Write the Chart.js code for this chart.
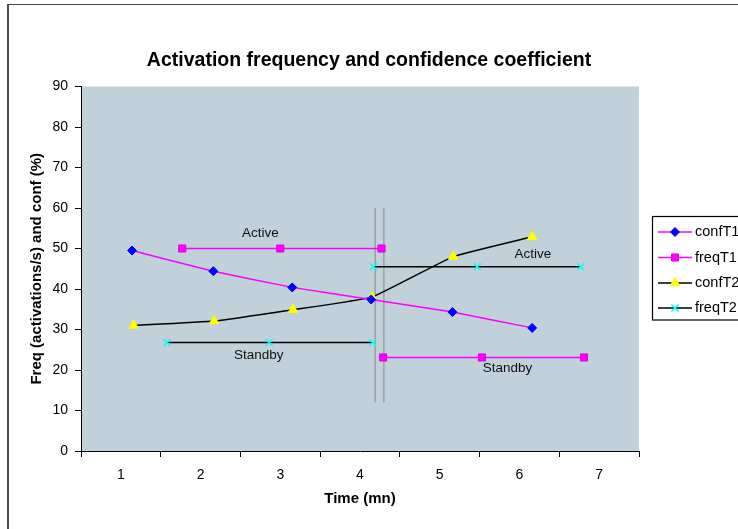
<!DOCTYPE html>
<html>
<head>
<meta charset="utf-8">
<script src="https://cdn.jsdelivr.net/npm/chart.js@4.4.1/dist/chart.umd.min.js"></script>
<style>
  html, body { margin: 0; padding: 0; background: #fff; }
  #wrap { position: relative; width: 738px; height: 529px; overflow: hidden; }
  #frame { position: absolute; left: 7px; top: 4px; width: 800px; height: 600px;
           border-left: 2px solid #4a4a4a; border-top: 1.5px solid #4a4a4a; }
  #activityChart { position: absolute; left: 0; top: 0; }
</style>
</head>
<body>
<div id="wrap">
  <div id="frame"></div>
  <canvas id="activityChart" width="738" height="529"></canvas>
</div>
<script>
// category tick labels (time, mn)
const timeLabels = ['1', '2', '3', '4', '5', '6', '7'];

// series (x = time, y = value); null breaks the line
const confT1X = [1.14, 2.16, 3.15, 4.14, 5.16, 6.16];
const confT1Y = [49.5, 44.4, 40.4, 37.4, 34.3, 30.4];

const freqT1X = [1.77, 3.00, 4.27, 4.28, 4.29, 5.53, 6.81];
const freqT1Y = [50, 50, 50, null, 23.1, 23.1, 23.1];

const confT2X = [1.16, 2.17, 3.16, 4.15, 5.17, 6.16];
const confT2Y = [31.0, 32.1, 34.9, 38.0, 48.0, 52.9];

const freqT2X = [1.58, 2.86, 4.16, 4.165, 4.17, 5.47, 6.77];
const freqT2Y = [26.8, 26.8, 26.8, null, 45.5, 45.5, 45.5];

// switch-over markers (two vertical lines)
const switchX = [4.19, 4.30];
const switchY = [12, 60];

// state notes
const noteText = ['Active', 'Standby', 'Active', 'Standby'];
const noteX = [2.75, 2.73, 6.17, 5.85];
const noteY = [53.7, 23.6, 48.6, 20.4];

const yTicks = [0, 10, 20, 30, 40, 50, 60, 70, 80, 90];

Chart.defaults.font.family = "'Liberation Sans', Arial, sans-serif";
Chart.defaults.color = '#000';

function pts(xs, ys) {
    return xs.map((x, i) => ({ x: x, y: ys[i] }));
}

const plotBg = {
    id: 'plotBg',
    beforeDraw(chart) {
        const a = chart.chartArea;
        const ctx = chart.ctx;
        ctx.save();
        ctx.fillStyle = '#C0D1D9';
        ctx.fillRect(a.left, a.top, a.right - a.left, a.bottom - a.top);
        ctx.restore();
    }
};

const notesAndLegend = {
    id: 'notesAndLegend',
    afterDatasetsDraw(chart) {
        const ctx = chart.ctx;
        const xs = chart.scales.xd;
        const ys = chart.scales.y;
        ctx.save();
        ctx.font = "13.5px 'Liberation Sans', Arial, sans-serif";
        ctx.fillStyle = '#111';
        ctx.textAlign = 'center';
        ctx.textBaseline = 'middle';
        noteText.forEach((t, i) => {
            ctx.fillText(t, xs.getPixelForValue(noteX[i]), ys.getPixelForValue(noteY[i]));
        });
        ctx.restore();
    },
    afterDraw(chart) {
        const ctx = chart.ctx;
        ctx.save();
        // legend box
        ctx.strokeStyle = '#000';
        ctx.lineWidth = 1.2;
        ctx.strokeRect(652.5, 216.5, 140, 103.5);
        const rows = [232, 257.5, 283, 308];
        chart.data.datasets.slice(0, 4).forEach((ds, i) => {
            const y = rows[i];
            ctx.strokeStyle = ds.borderColor;
            ctx.lineWidth = 1.5;
            ctx.beginPath();
            ctx.moveTo(658, y);
            ctx.lineTo(692, y);
            ctx.stroke();
            ctx.fillStyle = ds.pointBackgroundColor;
            ctx.strokeStyle = ds.pointBorderColor;
            ctx.lineWidth = ds.pointBorderWidth;
            Chart.helpers.drawPoint(ctx, {
                pointStyle: ds.pointStyle,
                radius: ds.pointRadius,
                rotation: 0,
                borderWidth: ds.pointBorderWidth
            }, 675, y);
            ctx.fillStyle = '#000';
            ctx.font = "14.5px 'Liberation Sans', Arial, sans-serif";
            ctx.textAlign = 'left';
            ctx.textBaseline = 'middle';
            ctx.fillText(ds.label, 695, y);
        });
        ctx.restore();
    }
};

new Chart(document.getElementById('activityChart'), {
    type: 'line',
    data: {
        labels: timeLabels,
        datasets: [
            {
                label: 'confT1',
                data: pts(confT1X, confT1Y),
                xAxisID: 'xd',
                borderColor: '#FF00FF',
                borderWidth: 1.5,
                tension: 0.1,
                pointStyle: 'rectRot',
                pointRadius: 4.5,
                pointBackgroundColor: '#0000FF',
                pointBorderColor: '#0000FF',
                pointBorderWidth: 1
            },
            {
                label: 'freqT1',
                data: pts(freqT1X, freqT1Y),
                xAxisID: 'xd',
                borderColor: '#FF00FF',
                borderWidth: 1.5,
                pointStyle: 'rect',
                pointRadius: 5,
                pointBackgroundColor: '#FF00FF',
                pointBorderColor: '#E000E0',
                pointBorderWidth: 1
            },
            {
                label: 'confT2',
                data: pts(confT2X, confT2Y),
                xAxisID: 'xd',
                borderColor: '#000000',
                borderWidth: 1.5,
                tension: 0.1,
                pointStyle: 'triangle',
                pointRadius: 5.5,
                pointBackgroundColor: '#FFFF00',
                pointBorderColor: '#FFFF00',
                pointBorderWidth: 1
            },
            {
                label: 'freqT2',
                data: pts(freqT2X, freqT2Y),
                xAxisID: 'xd',
                borderColor: '#000000',
                borderWidth: 1.5,
                pointStyle: 'crossRot',
                pointRadius: 5,
                pointBackgroundColor: '#00FFFF',
                pointBorderColor: '#00FFFF',
                pointBorderWidth: 1.5
            },
            {
                label: 'switchA',
                data: pts([switchX[0], switchX[0]], switchY),
                xAxisID: 'xd',
                borderColor: '#8a8a8a',
                borderWidth: 1,
                pointRadius: 0
            },
            {
                label: 'switchB',
                data: pts([switchX[1], switchX[1]], switchY),
                xAxisID: 'xd',
                borderColor: '#8a8a8a',
                borderWidth: 1,
                pointRadius: 0
            }
        ]
    },
    options: {
        responsive: false,
        animation: false,
        spanGaps: false,
        layout: { padding: { left: 0, right: 0, top: 0, bottom: 0 } },
        plugins: {
            legend: { display: false },
            tooltip: { enabled: false },
            title: {
                display: true,
                text: 'Activation frequency and confidence coefficient',
                font: { size: 19.5, weight: 'bold' },
                color: '#000',
                padding: { top: 49.3, bottom: 13.8 }
            }
        },
        scales: {
            x: {
                type: 'category',
                position: 'bottom',
                offset: true,
                grid: {
                    offset: true,
                    drawOnChartArea: false,
                    drawTicks: true,
                    tickLength: 6,
                    color: '#000'
                },
                border: { color: '#000', width: 1 },
                ticks: { font: { size: 14 }, color: '#000', padding: 10 },
                title: {
                    display: true,
                    text: 'Time (mn)',
                    font: { size: 15, weight: 'bold' },
                    color: '#000',
                    padding: { top: 0, bottom: 20.7 }
                },
                afterFit(scale) { scale.height = 78; }
            },
            xd: {
                type: 'linear',
                display: false,
                min: 0.5,
                max: 7.5
            },
            y: {
                min: 0,
                max: 90,
                afterBuildTicks(scale) { scale.ticks = yTicks.map(v => ({ value: v })); },
                grid: {
                    drawOnChartArea: false,
                    drawTicks: true,
                    tickLength: 6,
                    color: '#000'
                },
                border: { color: '#000', width: 1 },
                ticks: { font: { size: 14 }, color: '#000', padding: 7 },
                title: {
                    display: true,
                    text: 'Freq (activations/s) and conf (%)',
                    font: { size: 15, weight: 'bold' },
                    color: '#000',
                    padding: { top: 28, bottom: 0 }
                },
                afterFit(scale) { scale.width = 81; }
            },
            // empty right-hand strip that holds the legend column
            side: {
                position: 'right',
                grid: { display: false },
                border: { display: false },
                ticks: { display: false },
                afterFit(scale) { scale.width = 99; }
            }
        }
    },
    plugins: [plotBg, notesAndLegend]
});
</script>
</body>
</html>
